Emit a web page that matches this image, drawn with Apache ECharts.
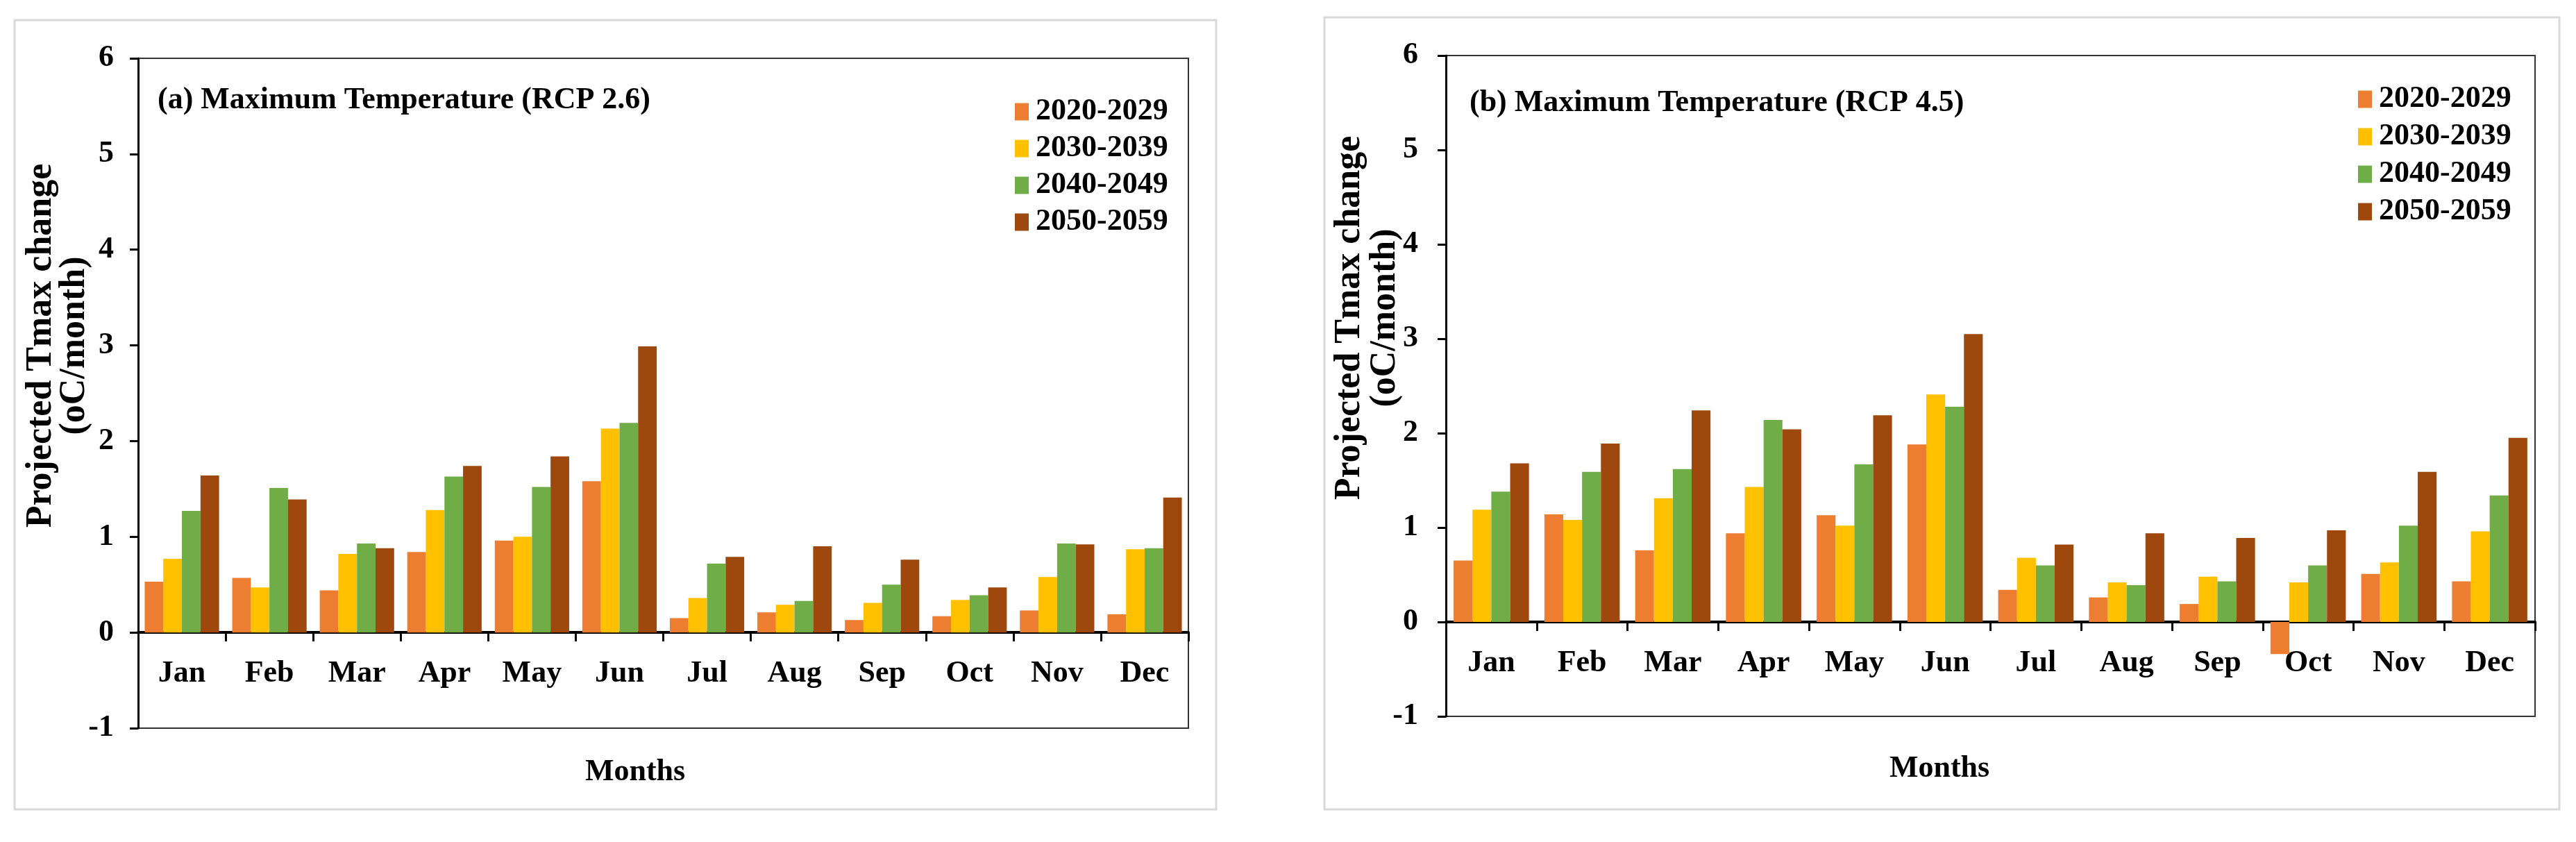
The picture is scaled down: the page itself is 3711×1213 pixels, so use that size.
<!DOCTYPE html>
<html>
<head>
<meta charset="utf-8">
<script src="https://cdn.jsdelivr.net/npm/echarts@6/dist/echarts.min.js"></script>
<style>
html,body{margin:0;padding:0;background:#fff;}
#chart{width:3711px;height:1213px;}
</style>
</head>
<body>
<div id="chart"></div>
<script>
const months = ['Jan','Feb','Mar','Apr','May','Jun','Jul','Aug','Sep','Oct','Nov','Dec'];
const periods = ['2020-2029','2030-2039','2040-2049','2050-2059'];
const colors = ['#ED7D31','#FFC000','#70AD47','#9E480E'];
const yTicks = [-1,0,1,2,3,4,5,6];

// (a) RCP 2.6
const rcp26_2020 = [0.53,0.57,0.44,0.84,0.96,1.58,0.15,0.21,0.13,0.17,0.23,0.19];
const rcp26_2030 = [0.77,0.47,0.82,1.28,1.00,2.13,0.36,0.29,0.31,0.34,0.58,0.87];
const rcp26_2040 = [1.27,1.51,0.93,1.63,1.52,2.19,0.72,0.33,0.50,0.39,0.93,0.88];
const rcp26_2050 = [1.64,1.39,0.88,1.74,1.84,2.99,0.79,0.90,0.76,0.47,0.92,1.41];

// (b) RCP 4.5
const rcp45_2020 = [0.65,1.14,0.76,0.94,1.13,1.88,0.34,0.26,0.19,-0.34,0.51,0.43];
const rcp45_2030 = [1.19,1.08,1.31,1.43,1.02,2.41,0.68,0.42,0.48,0.42,0.63,0.96];
const rcp45_2040 = [1.38,1.59,1.62,2.14,1.67,2.28,0.60,0.39,0.43,0.60,1.02,1.34];
const rcp45_2050 = [1.68,1.89,2.24,2.04,2.19,3.05,0.82,0.94,0.89,0.97,1.59,1.95];

const titleA = '(a) Maximum Temperature (RCP 2.6)';
const titleB = '(b) Maximum Temperature (RCP 4.5)';
const yName1 = 'Projected Tmax change';
const yName2 = '(oC/month)';
const xName = 'Months';

const FONT = '"Liberation Serif", "Times New Roman", serif';
const txt = {fontFamily: FONT, fontWeight: 'bold', color: '#000'};

const panelData = [
  [rcp26_2020, rcp26_2030, rcp26_2040, rcp26_2050],
  [rcp45_2020, rcp45_2030, rcp45_2040, rcp45_2050]
];
const catGaps = ['15%', '17%'];
const labelMargins = [35, 40];
// distance from grid bottom (value -1) up to the zero line, in px (one y unit)
const zeroOffsets = [-138, -136];

function xAxisCfg(gi){
  return {
    type: 'category', gridIndex: gi, data: months, position: 'bottom',
    offset: zeroOffsets[gi],
    axisLine: {show: true, onZero: false, lineStyle: {color: '#000', width: 4}},
    axisTick: {show: true, length: 13, lineStyle: {color: '#000', width: 3}},
    axisLabel: Object.assign({fontSize: 44, margin: 38}, txt),
    splitLine: {show: false}
  };
}
function yAxisCfg(gi){
  return {
    type: 'value', gridIndex: gi, min: -1, max: 6, interval: 1,
    axisLine: {show: true, lineStyle: {color: '#000', width: 3}},
    axisTick: {show: true, length: 12, lineStyle: {color: '#000', width: 3}},
    axisLabel: Object.assign({fontSize: 44, margin: labelMargins[gi]}, txt),
    splitLine: {show: false}
  };
}

const series = [];
panelData.forEach((arrs, gi) => {
  arrs.forEach((d, si) => {
    series.push({
      type: 'bar', name: periods[si], xAxisIndex: gi, yAxisIndex: gi,
      data: d, barGap: '0%', barCategoryGap: catGaps[gi],
      itemStyle: {color: colors[si]}
    });
  });
});

function legendCfg(left, top, gap){
  return {
    orient: 'vertical', left: left, top: top, itemWidth: 20, itemHeight: 25,
    itemGap: gap, icon: 'rect', data: periods, selectedMode: false,
    textStyle: Object.assign({fontSize: 44, lineHeight: 46, padding: [0,0,0,5]}, txt)
  };
}

function gtext(x, y, text, size, rot, align){
  return {
    type: 'text', x: x, y: y, rotation: rot || 0, z: 100,
    style: {text: text, fontSize: size, fontFamily: FONT, fontWeight: 'bold', fill: '#000',
            textAlign: align || 'center', textVerticalAlign: 'middle'}
  };
}

const option = {
  animation: false,
  backgroundColor: '#fff',
  grid: [
    {left: 199, top: 84, width: 1513, height: 965, show: true, borderColor: '#333', borderWidth: 2, containLabel: false},
    {left: 2083, top: 80, width: 1569, height: 952, show: true, borderColor: '#333', borderWidth: 2, containLabel: false}
  ],
  xAxis: [xAxisCfg(0), xAxisCfg(1)],
  yAxis: [yAxisCfg(0), yAxisCfg(1)],
  legend: [legendCfg(1457, 133, 7), legendCfg(3392, 115, 8)],
  series: series,
  graphic: [
    {type: 'rect', shape: {x: 21, y: 29, width: 1731, height: 1137}, style: {fill: 'none', stroke: '#d9d9d9', lineWidth: 3}, z: 0},
    {type: 'rect', shape: {x: 1908, y: 25, width: 1779, height: 1141}, style: {fill: 'none', stroke: '#d9d9d9', lineWidth: 3}, z: 0},
    gtext(227, 145, titleA, 44, 0, 'left'),
    gtext(2117, 149, titleB, 44, 0, 'left'),
    gtext(60, 498, yName1, 52, Math.PI/2),
    gtext(108, 498, yName2, 52, Math.PI/2),
    gtext(1945, 458, yName1, 52, Math.PI/2),
    gtext(1996, 458, yName2, 52, Math.PI/2),
    gtext(915, 1113, xName, 44),
    gtext(2794, 1108, xName, 44)
  ]
};

const chart = echarts.init(document.getElementById('chart'));
chart.setOption(option);
</script>
</body>
</html>
